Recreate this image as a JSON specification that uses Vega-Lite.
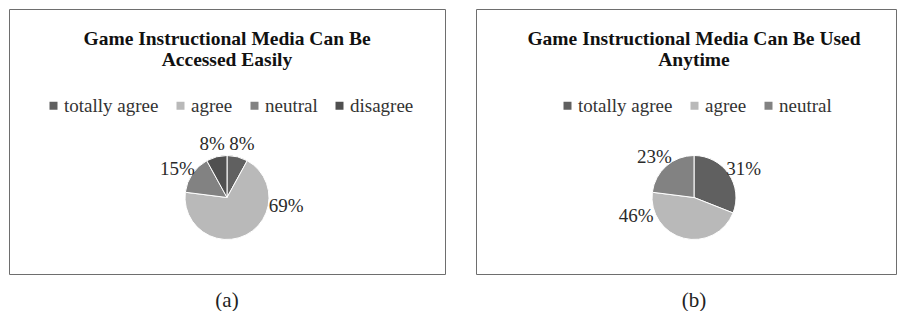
{
  "$schema": "https://vega.github.io/schema/vega-lite/v6.json",
  "padding": {"left": 8, "top": 8, "right": 0, "bottom": 0},
  "background": "white",
  "config": {
    "font": "Liberation Serif",
    "view": {"stroke": "#6e6e6e", "strokeWidth": 1},
    "concat": {"spacing": 29},
    "legend": {
      "orient": "none",
      "direction": "horizontal",
      "symbolType": "square",
      "symbolSize": 64,
      "symbolStrokeWidth": 0,
      "labelFont": "Liberation Serif",
      "labelFontSize": 19,
      "labelColor": "#333",
      "labelOffset": 1,
      "columnPadding": 12,
      "padding": 0,
      "title": null
    },
    "title": {"font": "Liberation Serif", "color": "#111"}
  },
  "resolve": {"scale": {"color": "independent"}, "legend": {"color": "independent"}},
  "hconcat": [
    {
      "title": {"text": "(a)", "orient": "bottom", "anchor": "middle", "fontSize": 21, "fontWeight": "normal", "offset": 15, "color": "#222"},
      "vconcat": [
        {
          "width": 436,
          "height": 265,
          "view": {"stroke": "#6e6e6e", "strokeWidth": 1},
          "title": {"text": ["Game Instructional Media Can Be", "Accessed Easily"], "anchor": "middle", "fontSize": 19.5, "fontWeight": "bold", "lineHeight": 21, "offset": -61},
          "data": {"values": [
            {"response": "totally agree", "share": 0.08, "rank": 1},
            {"response": "agree", "share": 0.69, "rank": 2},
            {"response": "neutral", "share": 0.15, "rank": 3},
            {"response": "disagree", "share": 0.08, "rank": 4}
          ]},
          "encoding": {
            "theta": {"field": "share", "type": "quantitative", "stack": true},
            "order": {"field": "rank", "type": "quantitative"}
          },
          "layer": [
            {
              "mark": {"type": "arc", "outerRadius": 42, "stroke": "#ffffff", "strokeWidth": 1, "yOffset": 56},
              "encoding": {
                "color": {"field": "response", "type": "nominal",
                  "scale": {"domain": ["totally agree", "agree", "neutral", "disagree"], "range": ["#606060", "#b9b9b9", "#828282", "#505050"]},
                  "legend": {"orient": "none", "legendX": 35, "legendY": 87, "direction": "horizontal", "title": null}}
              }
            },
            {
              "mark": {"type": "text", "radius": 60, "fontSize": 19, "font": "Liberation Serif", "yOffset": 61},
              "encoding": {
                "detail": {"field": "response", "type": "nominal"},
                "text": {"field": "share", "type": "quantitative", "format": ".0%"},
                "color": {"value": "#2a2a2a"},
                "opacity": {"condition": {"test": "datum.response === 'agree'", "value": 0}, "value": 1}
              }
            },
            {
              "mark": {"type": "text", "radius": 60, "fontSize": 19, "font": "Liberation Serif", "yOffset": 61, "dx": 32, "dy": -50},
              "encoding": {
                "detail": {"field": "response", "type": "nominal"},
                "text": {"field": "share", "type": "quantitative", "format": ".0%"},
                "color": {"value": "#2a2a2a"},
                "opacity": {"condition": {"test": "datum.response === 'agree'", "value": 1}, "value": 0}
              }
            }
          ]
        }
      ]
    },
    {
      "title": {"text": "(b)", "orient": "bottom", "anchor": "middle", "fontSize": 21, "fontWeight": "normal", "offset": 15, "color": "#222", "dx": 8},
      "vconcat": [
        {
          "width": 420,
          "height": 265,
          "view": {"stroke": "#6e6e6e", "strokeWidth": 1},
          "title": {"text": ["Game Instructional Media Can Be Used", "Anytime"], "anchor": "middle", "fontSize": 19.5, "fontWeight": "bold", "lineHeight": 21, "offset": -61, "dx": 8},
          "data": {"values": [
            {"response": "totally agree", "share": 0.31, "rank": 1},
            {"response": "agree", "share": 0.46, "rank": 2},
            {"response": "neutral", "share": 0.23, "rank": 3}
          ]},
          "encoding": {
            "theta": {"field": "share", "type": "quantitative", "stack": true},
            "order": {"field": "rank", "type": "quantitative"}
          },
          "layer": [
            {
              "mark": {"type": "arc", "outerRadius": 42, "stroke": "#ffffff", "strokeWidth": 1, "xOffset": 8, "yOffset": 56},
              "encoding": {
                "color": {"field": "response", "type": "nominal",
                  "scale": {"domain": ["totally agree", "agree", "neutral"], "range": ["#606060", "#b9b9b9", "#828282"]},
                  "legend": {"orient": "none", "legendX": 82, "legendY": 87, "direction": "horizontal", "title": null}}
              }
            },
            {
              "mark": {"type": "text", "radius": 60, "fontSize": 19, "font": "Liberation Serif", "xOffset": 8, "yOffset": 61},
              "encoding": {
                "detail": {"field": "response", "type": "nominal"},
                "text": {"field": "share", "type": "quantitative", "format": ".0%"},
                "color": {"value": "#2a2a2a"},
                "opacity": {"condition": {"test": "datum.response === 'agree'", "value": 0}, "value": 1}
              }
            },
            {
              "mark": {"type": "text", "radius": 60, "fontSize": 19, "font": "Liberation Serif", "xOffset": 8, "yOffset": 61, "dx": -43, "dy": -45},
              "encoding": {
                "detail": {"field": "response", "type": "nominal"},
                "text": {"field": "share", "type": "quantitative", "format": ".0%"},
                "color": {"value": "#2a2a2a"},
                "opacity": {"condition": {"test": "datum.response === 'agree'", "value": 1}, "value": 0}
              }
            }
          ]
        }
      ]
    }
  ]
}
